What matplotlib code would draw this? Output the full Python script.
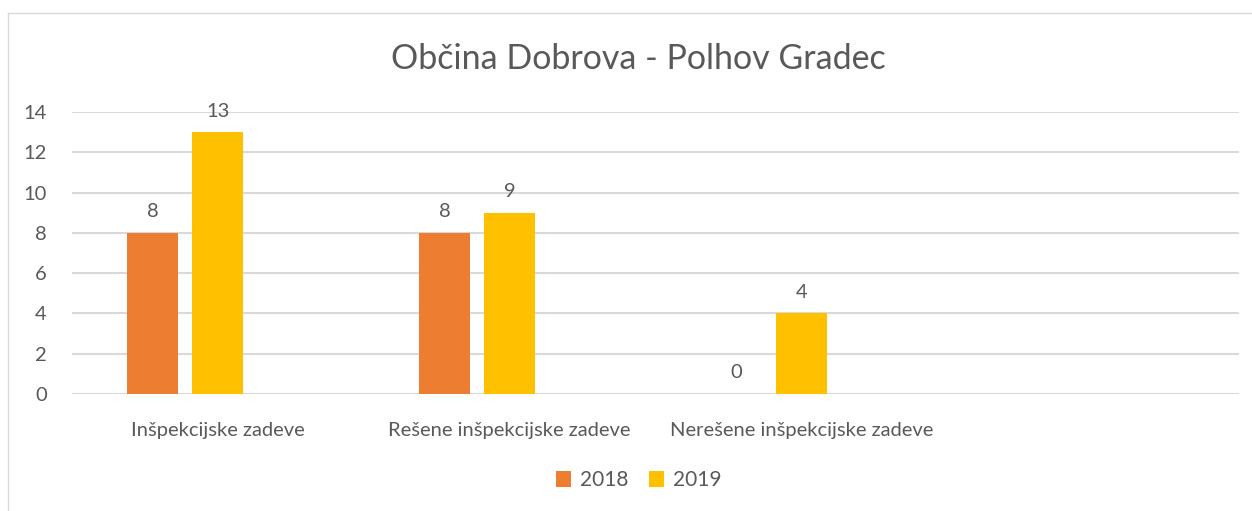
import numpy as np
import matplotlib.pyplot as plt
from matplotlib.lines import Line2D

plt.rcParams['font.family'] = ['Lato', 'DejaVu Sans']

categories = ['Inšpekcijske zadeve', 'Rešene inšpekcijske zadeve', 'Nerešene inšpekcijske zadeve', '']
years = ['2018', '2019']
values_2018 = [8, 8, 0]
values_2019 = [13, 9, 4]
colors = ['#ED7D31', '#FFC000']
text_color = '#595959'
grid_color = '#D9D9D9'

fig = plt.figure(figsize=(12.52, 5.11), dpi=100)
ax = fig.add_axes([0.0575, 0.229, 0.9321, 0.552])

x = np.arange(len(categories))
width = 0.175
offset = 0.223

for i, (vals, yr, c) in enumerate(zip([values_2018, values_2019], years, colors)):
    xs = x[:len(vals)] + (i - 1) * offset
    ax.bar(xs, vals, width, color=c, label=yr, zorder=2)
    for xi, v in zip(xs, vals):
        ax.annotate(str(v), (xi, v), xytext=(0, 9), textcoords='offset points',
                    ha='center', va='bottom', fontsize=14.5, color=text_color)

ax.set_xlim(-0.5, len(categories) - 0.5)
ax.set_ylim(0, 14)
ax.set_yticks(range(0, 15, 2))
ax.set_xticks(x)
ax.set_xticklabels(categories)
ax.yaxis.grid(True, color=grid_color, linewidth=1.5, zorder=0)
ax.set_axisbelow(True)
for s in ax.spines.values():
    s.set_visible(False)
ax.tick_params(axis='both', length=0, labelsize=14.5, colors=text_color)
ax.tick_params(axis='x', pad=20)
ax.tick_params(axis='y', pad=18)

fig.text(0.51, 0.885, 'Občina Dobrova - Polhov Gradec', ha='center', va='center',
         fontsize=24.5, color=text_color)

fig.legend(loc='center', bbox_to_anchor=(0.51, 0.06), ncol=2, frameon=False,
           fontsize=15, handlelength=0.75, handleheight=0.75, handletextpad=0.4,
           columnspacing=1.0, labelcolor=text_color)

# chart border
fig.add_artist(Line2D([8 / 1252, 8 / 1252], [0, 1 - 13 / 511], transform=fig.transFigure,
                      color=grid_color, linewidth=1))
fig.add_artist(Line2D([8 / 1252, 1], [1 - 13 / 511, 1 - 13 / 511], transform=fig.transFigure,
                      color=grid_color, linewidth=1))

fig.savefig('out.png', dpi=100)
